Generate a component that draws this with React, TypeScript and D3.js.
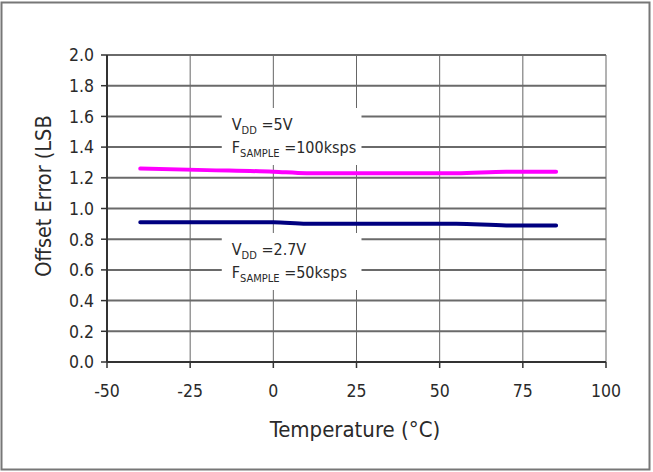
import * as d3 from "d3";

// Offset error vs temperature, two supply/sample-rate conditions
const temps = [-40, -20, 0, 10, 25, 40, 55, 70, 85];
const offset5V = [1.26, 1.25, 1.24, 1.23, 1.23, 1.23, 1.23, 1.24, 1.24];
const offset27V = [0.91, 0.91, 0.91, 0.9, 0.9, 0.9, 0.9, 0.89, 0.89];
const xTicks = [-50, -25, 0, 25, 50, 75, 100];
const yTicks = [0, 0.2, 0.4, 0.6, 0.8, 1.0, 1.2, 1.4, 1.6, 1.8, 2.0];

const width = 653;
const height = 472;
const marginLeft = 107;
const marginRight = 47;
const marginTop = 55;
const marginBottom = 110;

const font = "'DejaVu Sans Condensed', 'DejaVu Sans', sans-serif";
const ink = "#2a2a2a";

export default function App() {
  const x = d3
    .scaleLinear()
    .domain([-50, 100])
    .range([marginLeft, width - marginRight]);
  const y = d3
    .scaleLinear()
    .domain([0, 2])
    .range([height - marginBottom, marginTop]);

  const line = d3
    .line<number>()
    .x((d, i) => x(temps[i]))
    .y((d) => y(d))
    .curve(d3.curveMonotoneX);

  const x0 = x(-50);
  const x1 = x(100);
  const y0 = y(0);
  const y1 = y(2);

  // white boxes behind the condition notes, the gridlines stop at them
  const note = (top: number, vdd: string, fs: string) => (
    <g>
      <rect x={x(-15.5)} y={top} width={x(26.5) - x(-15.5)} height={57} fill="white" />
      <text x={x(-12.5)} y={top + 22} fontSize={16} fill={ink} fontFamily={font}>
        V
        <tspan fontSize={11} dy={4}>DD</tspan>
        <tspan dy={-4}> ={vdd}</tspan>
      </text>
      <text x={x(-12.5)} y={top + 45} fontSize={16} fill={ink} fontFamily={font}>
        F
        <tspan fontSize={11} dy={4}>SAMPLE</tspan>
        <tspan dy={-4}> ={fs}</tspan>
      </text>
    </g>
  );

  return (
    <svg
      width={width}
      height={height}
      style={{ position: "absolute", left: 0, top: 0, background: "white" }}
    >
      <rect x={1.5} y={2.5} width={648} height={467} fill="white" stroke="#777" strokeWidth={2} />

      {xTicks.slice(1).map((t) => (
        <line key={"vx" + t} x1={x(t)} x2={x(t)} y1={y0} y2={y1} stroke="#666" strokeWidth={1} />
      ))}
      {yTicks.slice(1).map((t) => (
        <line key={"hy" + t} x1={x0} x2={x1} y1={y(t)} y2={y(t)} stroke="#6a6a6a" strokeWidth={2} />
      ))}

      {note(108, "5V", "100ksps")}
      {note(233, "2.7V", "50ksps")}

      <path d={line(offset5V) ?? ""} fill="none" stroke="#ff00ff" strokeWidth={4} strokeLinecap="round" />
      <path d={line(offset27V) ?? ""} fill="none" stroke="#000080" strokeWidth={4} strokeLinecap="round" />

      {/* axes */}
      <line x1={x0} x2={x0} y1={y1} y2={y0} stroke="#333" strokeWidth={2} />
      <line x1={x0} x2={x1} y1={y0} y2={y0} stroke="#333" strokeWidth={2} />
      {yTicks.map((t) => (
        <g key={"yt" + t}>
          <line x1={x0 - 6} x2={x0} y1={y(t)} y2={y(t)} stroke="#333" strokeWidth={1.5} />
          <text
            x={x0 - 13}
            y={y(t)}
            dy="0.36em"
            textAnchor="end"
            fontSize={17.5}
            fill={ink}
            fontFamily={font}
          >
            {t.toFixed(1)}
          </text>
        </g>
      ))}
      {xTicks.map((t) => (
        <g key={"xt" + t}>
          <line x1={x(t)} x2={x(t)} y1={y0} y2={y0 + 6} stroke="#333" strokeWidth={1.5} />
          <text
            x={x(t)}
            y={y0 + 35}
            textAnchor="middle"
            fontSize={17.5}
            fill={ink}
            fontFamily={font}
          >
            {t}
          </text>
        </g>
      ))}

      <text
        x={355}
        y={437}
        textAnchor="middle"
        fontSize={22}
        fill={ink}
        fontFamily={font}
      >
        Temperature (°C)
      </text>
      <text
        transform="translate(51,196) rotate(-90)"
        textAnchor="middle"
        fontSize={21.5}
        fill={ink}
        fontFamily={font}
      >
        Offset Error (LSB
      </text>
    </svg>
  );
}
